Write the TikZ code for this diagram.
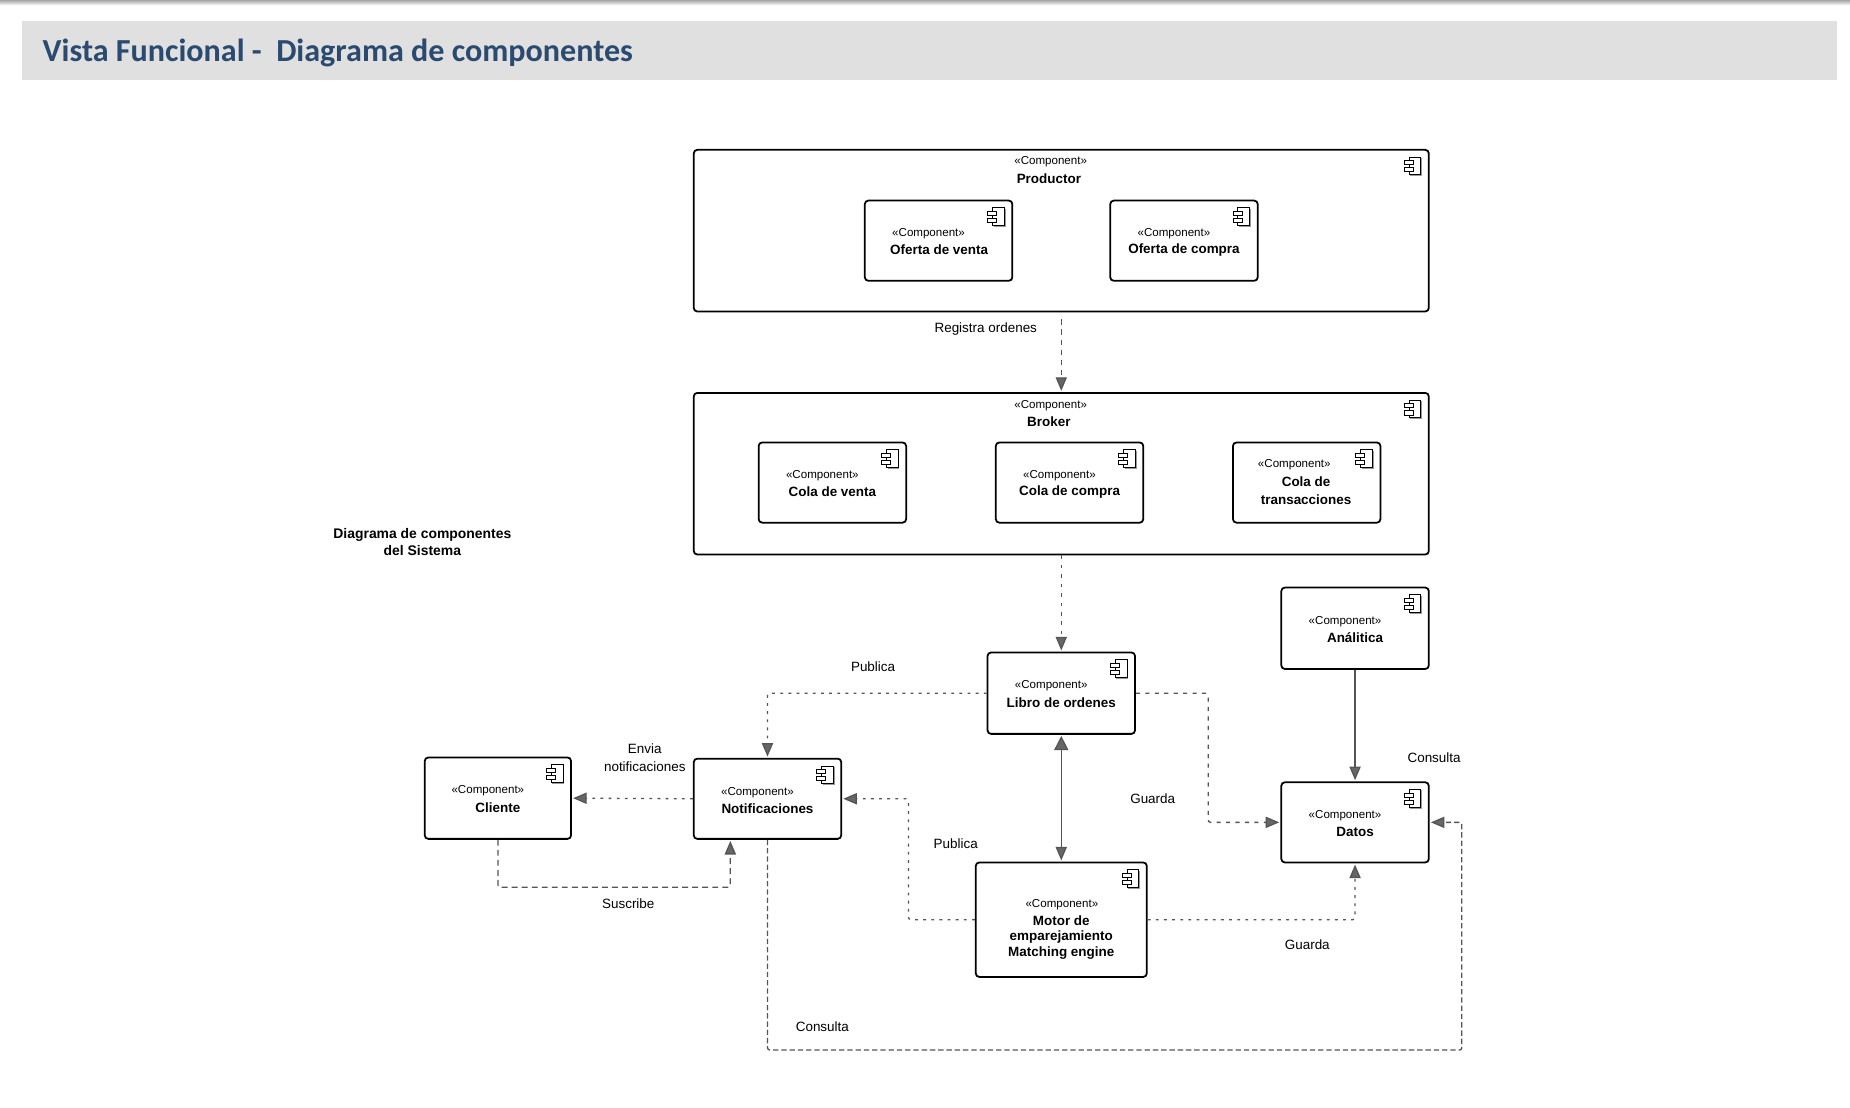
\documentclass[tikz,border=0pt]{standalone}
\usepackage{fontspec}
\setmainfont{Liberation Sans}
\newfontfamily\titlefont{Carlito}
\usetikzlibrary{arrows.meta}
\definecolor{headbg}{HTML}{E0E0E0}
\definecolor{titleblue}{HTML}{2A4A70}
\definecolor{linegray}{HTML}{555555}
\definecolor{tipgray}{HTML}{666666}
\tikzset{
  compbox/.style={draw=black,line width=1.5pt,rounded corners=3pt,fill=white,inner sep=0pt},
  stereo/.style={inner sep=0pt,yshift=-1pt,font=\fontsize{9.8}{12}\selectfont,text=black},
  cname/.style={inner sep=0pt,yshift=-0.5pt,align=center,font=\fontsize{11.4}{#1}\bfseries\selectfont,text=black},
  cname/.default=14,
  lbl/.style={inner sep=0pt,yshift=-0.5pt,align=center,font=\fontsize{11.4}{15.5}\selectfont,text=black},
  conn/.style={draw=linegray,line width=1.1pt,rounded corners=2pt,-{Triangle[width=9.5pt,length=11.5pt,fill=tipgray]}},
  dashA/.style={conn,dash pattern=on 5pt off 3.5pt},
  dashB/.style={conn,dash pattern=on 3pt off 5pt},
  dashC/.style={conn,dash pattern=on 2.4pt off 4.5pt},
  dashD/.style={conn,dash pattern=on 4.5pt off 2.5pt},
}
% name, x1, y1, x2, y2
\newcommand{\compo}[5]{%
  \pgfmathsetmacro{\cw}{#4-#2}\pgfmathsetmacro{\ch}{#5-#3}%
  \pgfmathsetmacro{\ccx}{(#2+#4)/2}\pgfmathsetmacro{\ccy}{(#3+#5)/2}%
  \node[compbox,minimum width=\cw pt,minimum height=\ch pt] (#1) at (\ccx,\ccy) {};
  \begin{scope}[shift={(#1.north east)},xshift=-0.5pt,yshift=-1pt]
    \draw[draw=gray!80,line width=.7pt] (-6.4,6.6) -- (-6.4,21.6) -- (-16,21.6);
    \draw[black,line width=.8pt] (-17,6) -- (-7,6) -- (-7,21) -- (-17,21) -- cycle;
    \draw[black,line width=.8pt,fill=white] (-21,9) rectangle (-13.5,12.5);
    \draw[black,line width=.8pt,fill=white] (-21,15) rectangle (-13.5,18.5);
  \end{scope}
}
\begin{document}
\begin{tikzpicture}[x=1pt,y=-1pt]
\useasboundingbox (0,0) rectangle (1568,939.1);
\fill[white] (0,0) rectangle (1568,939.1);
\shade[top color=gray!70,bottom color=white] (0,0) rectangle (1568,4.5);
\node[fill=headbg,inner sep=0pt,minimum width=1538.5pt,minimum height=50pt] (header) at (787.75,43) {};
\node[anchor=west,inner sep=0pt,text=titleblue,font=\titlefont\fontsize{27.2}{30}\bfseries\selectfont] (title) at (36,45) {Vista Funcional -\ \ Diagrama de componentes};

\node[inner sep=0pt,align=center,yshift=-0.5pt,font=\fontsize{11.8}{14}\bfseries\selectfont] (sistema) at (358,459) {Diagrama de componentes\\del Sistema};

\compo{productor}{588}{127}{1211}{264}
\node[stereo] (s1) at (890.5,136) {«Component»};
\node[cname] (n1) at (889,151) {Productor};
\compo{venta}{733}{170}{858}{238}
\node[stereo] (s2) at (787,197) {«Component»};
\node[cname] (n2) at (796,211) {Oferta de venta};
\compo{compra}{941}{170}{1066}{238}
\node[stereo] (s3) at (995,197) {«Component»};
\node[cname] (n3) at (1003.5,211.5) {Oferta de compra};

\compo{broker}{588}{333}{1211}{470}
\node[stereo] (s4) at (890.5,342.5) {«Component»};
\node[cname] (n4) at (889,357) {Broker};
\compo{colav}{643}{375}{768}{443}
\node[stereo] (s5) at (697,402) {«Component»};
\node[cname] (n5) at (705.5,416) {Cola de venta};
\compo{colac}{844}{375}{969}{443}
\node[stereo] (s6) at (898,402) {«Component»};
\node[cname] (n6) at (906.5,416.5) {Cola de compra};
\compo{colat}{1045}{375}{1170}{443}
\node[stereo] (s7) at (1097,393) {«Component»};
\node[cname=15.5] (n7) at (1107,415.5) {Cola de\\transacciones};

\compo{libro}{837}{553}{962}{622}
\node[stereo] (s8) at (891,580.5) {«Component»};
\node[cname] (n8) at (899.5,595) {Libro de ordenes};
\compo{analitica}{1086}{498}{1211}{567}
\node[stereo] (s9) at (1140,525.5) {«Component»};
\node[cname] (n9) at (1148.5,540) {Análitica};
\compo{datos}{1086}{663}{1211}{731}
\node[stereo] (s10) at (1140,690) {«Component»};
\node[cname] (n10) at (1148.5,704.5) {Datos};
\compo{notif}{588}{643}{713}{711}
\node[stereo] (s11) at (642,670.5) {«Component»};
\node[cname] (n11) at (650.5,684.5) {Notificaciones};
\compo{cliente}{360}{642}{484}{711}
\node[stereo] (s12) at (413.5,669.5) {«Component»};
\node[cname] (n12) at (422,684) {Cliente};
\compo{motor}{827}{731}{972}{828}
\node[stereo] (s13) at (900,766) {«Component»};
\node[cname=13.4] (n13) at (899.5,794) {Motor de\\emparejamiento\\Matching engine};

% connectors
\draw[dashA,shorten <=6pt,shorten >=1pt] (productor.south) -- (broker.north);
\draw[dashB,shorten >=1pt] (broker.south) -- (libro.north);
\draw[dashC,shorten >=1pt] (libro.west) -| (notif.north);
\draw[dashD,dash pattern=on 3.5pt off 4.5pt,shorten >=1pt] (libro.east) -| (1024,640) |- (datos.west);
\draw[conn,{Triangle[width=12pt,length=12pt,fill=tipgray]}-{Triangle[width=9.5pt,length=11.5pt,fill=tipgray]},shorten <=1pt,shorten >=1pt] (libro.south) -- (motor.north);
\draw[conn,shorten >=1pt] (analitica.south) -- (datos.north);
\draw[dashC,shorten >=1pt] (notif.west) -- (cliente.east);
\draw[dashA,shorten >=1pt] (cliente.south) |- (520,752) -| ([xshift=-31.5pt]notif.south);
\draw[dashD,shorten >=1pt] (notif.south) |- (900,890) -| (1239,800) |- (datos.east);
\draw[dashC,shorten >=1pt] (motor.west) -| (770,720) |- (notif.east);
\draw[dashC,shorten >=1pt] (motor.east) -| (datos.south);

% labels
\node[lbl] (l1) at (835.5,278) {Registra ordenes};
\node[lbl] (l2) at (740,564.5) {Publica};
\node[lbl] (l3) at (546.5,641.5) {Envia\\notificaciones};
\node[lbl] (l4) at (977,676.5) {Guarda};
\node[lbl] (l5) at (810,715) {Publica};
\node[lbl] (l6) at (532.5,765.5) {Suscribe};
\node[lbl] (l7) at (1108,800.5) {Guarda};
\node[lbl] (l8) at (1215.5,642) {Consulta};
\node[lbl] (l9) at (697,869.5) {Consulta};
\end{tikzpicture}
\end{document}
